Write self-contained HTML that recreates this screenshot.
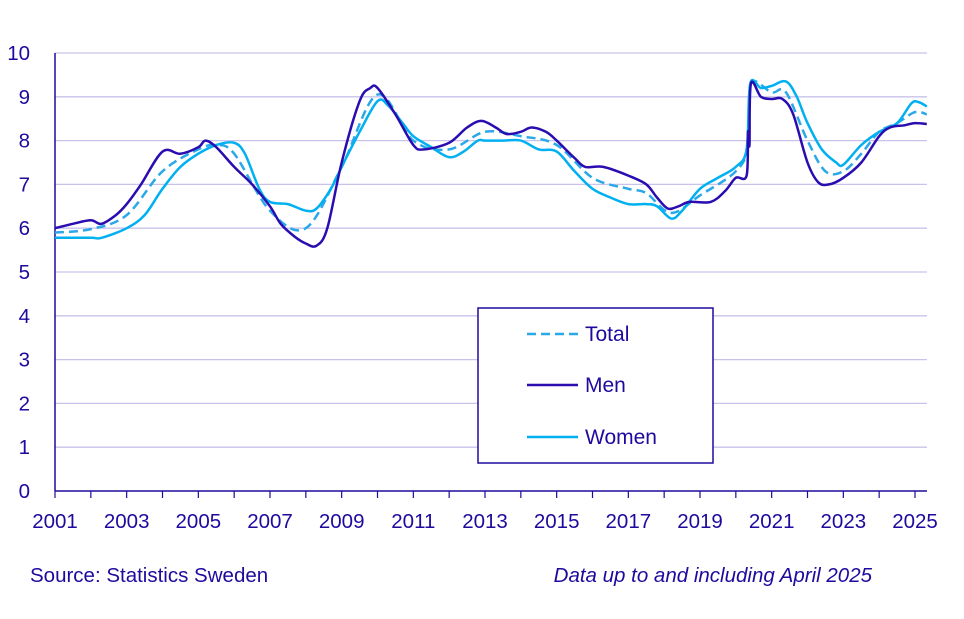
<!DOCTYPE html>
<html><head><meta charset="utf-8"><style>
body{margin:0;background:#fff;}
svg{display:block;font-family:"Liberation Sans",sans-serif;}
</style></head><body>
<svg id="c" width="964" height="619">
<g id="grid"></g>
<g id="axes"></g>
<g id="series"></g>
<g>
<rect x="478" y="308" width="235" height="155" fill="#fff" stroke="#1e0a9e" stroke-width="1.5"/>
<g><line x1="527" y1="334" x2="578" y2="334" stroke="#2aa8e8" stroke-width="2.5" stroke-dasharray="9,5"/><text x="585" y="341" font-size="21" fill="#1e0a9e">Total</text></g>
<g><line x1="527" y1="385" x2="578" y2="385" stroke="#2a0cb0" stroke-width="2.5"/><text x="585" y="392" font-size="21" fill="#1e0a9e">Men</text></g>
<g><line x1="527" y1="437" x2="578" y2="437" stroke="#00b0f0" stroke-width="2.5"/><text x="585" y="444" font-size="21" fill="#1e0a9e">Women</text></g>
</g>
<text x="30" y="582" font-size="20.5" fill="#1e0a9e">Source: Statistics Sweden</text>
<text x="872" y="582" font-size="20.5" fill="#1e0a9e" font-style="italic" text-anchor="end">Data up to and including April 2025</text>
</svg>
<script>
const yTicks=[0,1,2,3,4,5,6,7,8,9,10];
const xTicks=[2001,2003,2005,2007,2009,2011,2013,2015,2017,2019,2021,2023,2025];
const menT=[2001,2001.5,2002,2002.3,2002.7,2003,2003.4,2004,2004.5,2005,2005.2,2005.5,2006,2006.5,2007,2007.3,2007.7,2008,2008.3,2008.6,2009,2009.5,2009.8,2010,2010.5,2011,2011.3,2012,2012.5,2012.9,2013.3,2013.6,2014,2014.3,2014.7,2015,2015.5,2015.8,2016.3,2017,2017.5,2017.8,2018.1,2018.4,2018.7,2019.3,2019.7,2020,2020.3,2020.34,2020.38,2020.42,2020.7,2021,2021.3,2021.6,2022,2022.3,2022.6,2023,2023.5,2024,2024.3,2024.7,2025,2025.33];
const menV=[6.0,6.1,6.18,6.1,6.3,6.55,7.0,7.75,7.7,7.85,8.0,7.85,7.4,7.0,6.5,6.1,5.8,5.65,5.6,6.0,7.5,8.9,9.2,9.2,8.6,7.9,7.8,7.95,8.3,8.45,8.3,8.15,8.2,8.3,8.2,8.0,7.6,7.4,7.4,7.2,7.0,6.7,6.45,6.5,6.6,6.6,6.85,7.15,7.2,8.2,7.9,9.3,9.0,8.95,8.95,8.6,7.5,7.05,7.0,7.15,7.5,8.1,8.3,8.35,8.4,8.38];
const womenT=[2001,2002,2002.3,2003,2003.5,2004,2004.5,2005,2005.5,2006,2006.3,2006.7,2007,2007.5,2008,2008.3,2008.7,2009,2009.5,2010,2010.3,2010.7,2011,2011.5,2012,2012.4,2012.8,2013,2013.5,2014,2014.5,2015,2015.5,2016,2016.5,2017,2017.5,2017.8,2018.2,2018.5,2019,2019.5,2020,2020.3,2020.4,2020.7,2021,2021.4,2021.7,2022,2022.4,2022.8,2023,2023.5,2024,2024.5,2024.9,2025.1,2025.33];
const womenV=[5.78,5.78,5.78,6.0,6.3,6.9,7.4,7.7,7.9,7.95,7.7,6.9,6.6,6.55,6.4,6.45,6.9,7.4,8.2,8.9,8.8,8.4,8.1,7.85,7.62,7.75,8.0,8.0,8.0,8.0,7.8,7.75,7.3,6.9,6.7,6.55,6.55,6.5,6.22,6.4,6.9,7.15,7.4,7.8,9.3,9.2,9.25,9.35,9.0,8.4,7.8,7.5,7.45,7.9,8.2,8.4,8.85,8.88,8.78];
const totalT=[2001,2002,2003,2004,2005,2005.5,2006,2007,2008,2009,2010,2011,2012,2013,2014,2015,2016,2017,2017.5,2018.2,2019,2020,2020.35,2020.42,2021,2021.4,2022,2022.5,2023,2023.5,2024,2024.5,2025,2025.33];
const totalV=[5.9,5.98,6.3,7.3,7.8,7.9,7.7,6.4,6.0,7.4,9.05,8.0,7.8,8.2,8.1,7.9,7.15,6.9,6.8,6.35,6.75,7.3,7.9,9.3,9.1,9.1,8.0,7.3,7.3,7.7,8.2,8.4,8.65,8.6];
const NS="http://www.w3.org/2000/svg";
const X=t=>55+(t-2001)*(860/24);
const Y=v=>491-v*43.8;
const x0=55,x1=927;
function mk(tag,attrs,parent){const e=document.createElementNS(NS,tag);for(const k in attrs)e.setAttribute(k,attrs[k]);parent.appendChild(e);return e;}
const grid=document.getElementById('grid'),axes=document.getElementById('axes'),ser=document.getElementById('series');
yTicks.forEach(v=>{
 if(v>0){const l=mk('line',{x1:x0,x2:x1,y1:Y(v),y2:Y(v),stroke:'#c9c2ea','stroke-width':1.3},grid);
 
 }
 const t=mk('text',{x:30,y:Y(v)+7,'font-size':20.5,fill:'#1e0a9e','text-anchor':'end'},axes);t.textContent=v;
 
 
});
mk('line',{x1:x0,x2:x0,y1:Y(10),y2:Y(0),stroke:'#1e0a9e','stroke-width':1.5},axes);
const xa=mk('line',{x1:x0,x2:x1,y1:Y(0),y2:Y(0),stroke:'#1e0a9e','stroke-width':1.5},axes);


for(let yr=2001;yr<=2025;yr++){mk('line',{x1:X(yr),x2:X(yr),y1:Y(0),y2:Y(0)+7,stroke:'#1e0a9e','stroke-width':1.2},axes);}
xTicks.forEach(yr=>{const t=mk('text',{x:X(yr),y:528,'font-size':20.5,fill:'#1e0a9e','text-anchor':'middle'},axes);t.textContent=yr;
 
 });
function line(T,V,color,dash,name){
 const P=T.map((t,i)=>[X(t),Y(V[i])]);
 let d='M'+P[0][0].toFixed(1)+','+P[0][1].toFixed(1);
 for(let i=0;i<P.length-1;i++){
  const p0=P[Math.max(0,i-1)],p1=P[i],p2=P[i+1],p3=P[Math.min(P.length-1,i+2)];
  const c1=[p1[0]+(p2[0]-p0[0])/6,p1[1]+(p2[1]-p0[1])/6];
  const c2=[p2[0]-(p3[0]-p1[0])/6,p2[1]-(p3[1]-p1[1])/6];
  d+=' C'+c1[0].toFixed(1)+','+c1[1].toFixed(1)+' '+c2[0].toFixed(1)+','+c2[1].toFixed(1)+' '+p2[0].toFixed(1)+','+p2[1].toFixed(1);
 }
 const p=mk('path',{d:d,fill:'none',stroke:color,'stroke-width':2.5,'stroke-linejoin':'round'},ser);
 if(dash)p.setAttribute('stroke-dasharray',dash);
 
 }
line(totalT,totalV,'#2aa8e8','9,5','series-total');
line(womenT,womenV,'#00b0f0',null,'series-women');
line(menT,menV,'#2a0cb0',null,'series-men');
</script>
</body></html>
